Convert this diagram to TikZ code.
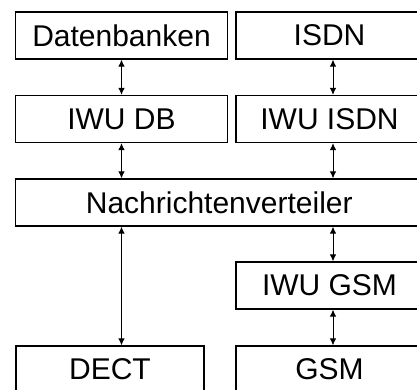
\documentclass[tikz,border=0pt]{standalone}
\usepackage{fontspec}
\setmainfont{Liberation Sans}
\usetikzlibrary{arrows.meta}
\begin{document}
\begin{tikzpicture}[x=1pt,y=1pt,
  unit/.style={draw, line width=1.2pt, inner sep=0pt, minimum height=47pt,
    font=\fontsize{30}{32}\selectfont},
  wide/.style={unit, minimum width=212pt},
  narrow/.style={unit, minimum width=187pt},
  link/.style={line width=1pt,
    {Latex[length=7pt,width=6.5pt]}-{Latex[length=7pt,width=6.5pt]}}]
\useasboundingbox (0,0) rectangle (417,389);
\clip (0,0) rectangle (417,389);

% left column
\node[wide] (db)    at (121.5,353.5) {Datenbanken};
\node[wide] (iwudb) at (121.5,270)   {IWU DB};

% right column
\node[narrow] (isdn)    at (329.5,353.5) {ISDN};
\node[narrow] (iwuisdn) at (329.5,270)   {IWU ISDN};

% message distributor spanning both columns
\node[unit, minimum width=407.5pt] (nv) at (219.25,186.5) {Nachrichtenverteiler};

\node[narrow] (iwugsm) at (329.5,103.5) {IWU GSM};
\node[unit, minimum width=188pt] (dect) at (110,19.5) {DECT};
\node[narrow] (gsm) at (329.5,19.5) {GSM};

% vertical lanes of the links
\coordinate (lx) at (iwudb.center);
\coordinate (rx) at ([xshift=3.5pt]iwuisdn.center);

% connections
\draw[link] (db.south) -- (iwudb.north);
\draw[link] (iwudb.south) -- (nv.north -| lx);
\draw[link] (isdn.south -| rx) -- (iwuisdn.north -| rx);
\draw[link] (iwuisdn.south -| rx) -- (nv.north -| rx);
\draw[link] (nv.south -| lx) -- (dect.north -| lx);
\draw[link] (nv.south -| rx) -- (iwugsm.north -| rx);
\draw[link] (iwugsm.south -| rx) -- (gsm.north -| rx);
\end{tikzpicture}
\end{document}
